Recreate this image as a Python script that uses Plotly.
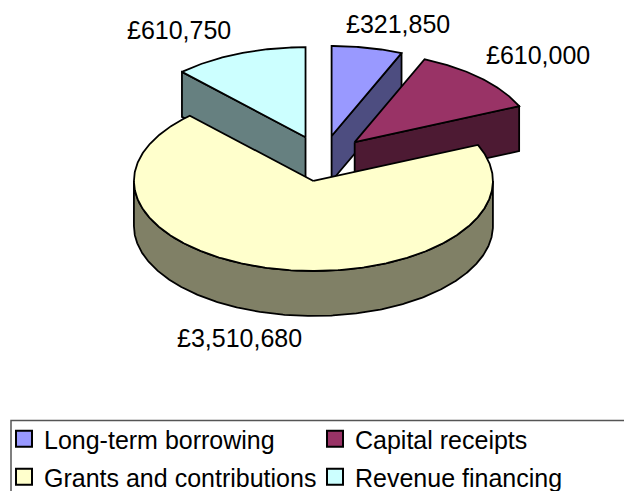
import numpy as np
import plotly.graph_objects as go

categories = ["Long-term borrowing", "Capital receipts", "Grants and contributions", "Revenue financing"]
values = [321850, 610000, 3510680, 610750]
top_colors = ["#9999FF", "#993366", "#FFFFCC", "#CCFFFF"]
side_colors = ["#4D4D80", "#4D1A33", "#808066", "#668080"]

W, H = 624, 491
CX, CY, RX, RY, DEPTH, EXPLODE = 322.5, 158.5, 179.5, 90, 45, 0.255
LINE = dict(color="black", width=1.8)
FONT = "Liberation Sans, Arial, sans-serif"
LABEL_POS = [(398, 24), (538, 55), (239, 338), (179, 30)]
LEGEND_POS = [(4, 439), (315, 439), (4, 477), (315, 477)]
LEGEND_IDS = ["legend", "legend2", "legend3", "legend4"]

fracs = np.array(values) / sum(values)
ends = np.cumsum(fracs) * 360
starts = ends - fracs * 360


def pt(cx, cy, deg):
    a = np.radians(deg)
    return cx + RX * np.sin(a), cy - RY * np.cos(a)


def arc(cx, cy, a0, a1):
    d = np.linspace(a0, a1, max(int(abs(a1 - a0)) * 2, 2))
    return pt(cx, cy, d)


apex = []
for s, e in zip(starts, ends):
    m = np.radians((s + e) / 2)
    apex.append((CX + EXPLODE * RX * np.sin(m), CY - EXPLODE * RY * np.cos(m)))

fig = go.Figure()


def poly(x, y, color):
    fig.add_trace(go.Scatter(x=np.r_[x, x[0]], y=np.r_[y, y[0]], mode="lines", fill="toself",
                             fillcolor=color, line=LINE, showlegend=False, hoverinfo="skip"))


def radial_wall(i, deg):
    ax, ay = apex[i]
    ox, oy = pt(ax, ay, deg)
    poly(np.array([ax, ox, ox, ax]), np.array([ay, oy, oy + DEPTH, ay + DEPTH]), side_colors[i])


def top_face(i):
    ax, ay = apex[i]
    x, y = arc(ax, ay, starts[i], ends[i])
    poly(np.r_[ax, x], np.r_[ay, y], top_colors[i])


# back slices first, the large front slice last
radial_wall(0, ends[0]); top_face(0)
radial_wall(3, starts[3]); top_face(3)
radial_wall(1, ends[1]); top_face(1)

ax2, ay2 = apex[2]
x_f, y_f = arc(ax2, ay2, 90, 270)
poly(np.r_[x_f, x_f[::-1]], np.r_[y_f, y_f[::-1] + DEPTH], side_colors[2])
top_face(2)

# legend entries, one small legend per entry so that the two columns line up
for i, name in enumerate(categories):
    fig.add_trace(go.Scatter(x=[None], y=[None], mode="markers", name=name, legend=LEGEND_IDS[i],
                             marker=dict(symbol="square", size=16, color=top_colors[i],
                                         line=dict(color="black", width=2))))

for v, (lx, ly) in zip(values, LABEL_POS):
    fig.add_annotation(x=lx, y=ly, text=f"£{v:,}", showarrow=False,
                       font=dict(family=FONT, size=25, color="black"))

legends = {
    lid: dict(xanchor="left", yanchor="middle", x=lx / W, y=1 - ly / H,
              bgcolor="rgba(0,0,0,0)", font=dict(family=FONT, size=25, color="black"),
              itemclick=False, itemdoubleclick=False)
    for lid, (lx, ly) in zip(LEGEND_IDS, LEGEND_POS)
}

fig.update_layout(
    width=W, height=H, margin=dict(l=0, r=0, t=0, b=0, autoexpand=False),
    paper_bgcolor="white", plot_bgcolor="white",
    xaxis=dict(range=[0, W], visible=False, fixedrange=True),
    yaxis=dict(range=[H, 0], visible=False, fixedrange=True),
    shapes=[dict(type="rect", xref="x", yref="y", x0=11, x1=640, y0=420.5, y1=500,
                 line=dict(color="#555555", width=1.5), fillcolor="rgba(0,0,0,0)")],
    **legends,
)
fig.write_html("out.html", config={"displayModeBar": False},
               post_script="document.body.style.margin='0';")
